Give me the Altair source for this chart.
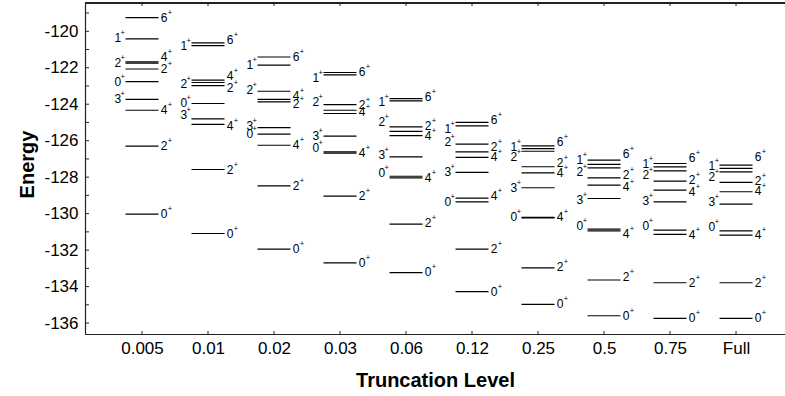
import altair as alt
import pandas as pd

categories = ["0.005", "0.01", "0.02", "0.03", "0.06", "0.12", "0.25", "0.5", "0.75", "Full"]

# energies of the levels in each truncation column
E_0005 = [-119.25, -120.42, -121.68, -121.75, -122.07, -122.76, -123.74, -124.33, -126.30, -130.03]
E_001 = [-120.64, -120.79, -122.68, -122.81, -122.98, -123.96, -124.80, -125.10, -127.58, -131.09]
E_002 = [-121.41, -121.86, -123.29, -123.74, -123.87, -125.28, -125.64, -126.25, -128.48, -131.95]
E_003 = [-122.26, -122.39, -124.02, -124.33, -124.51, -125.75, -126.61, -126.68, -129.04, -132.70]
E_006 = [-123.69, -123.82, -125.24, -125.49, -125.72, -126.89, -127.95, -128.04, -130.58, -133.24]
E_012 = [-125.00, -125.19, -126.19, -126.61, -126.92, -127.74, -129.15, -129.35, -131.95, -134.28]
E_025 = [-126.28, -126.43, -126.58, -127.43, -127.76, -128.58, -130.20, -130.23, -132.97, -134.98]
E_05 = [-127.07, -127.30, -127.49, -128.04, -128.44, -129.17, -130.85, -130.94, -133.64, -135.60]
E_075 = [-127.25, -127.44, -127.66, -128.22, -128.71, -129.35, -130.90, -131.14, -133.79, -135.74]
E_full = [-127.34, -127.52, -127.71, -128.29, -128.80, -129.48, -130.94, -131.18, -133.79, -135.74]

# spin of each level
J_0005 = [6, 1, 4, 2, 2, 0, 3, 4, 2, 0]
J_001 = [6, 1, 4, 2, 2, 0, 3, 4, 2, 0]
J_002 = [6, 1, 2, 4, 2, 3, 0, 4, 2, 0]
J_003 = [6, 1, 2, 2, 4, 3, 0, 4, 2, 0]
J_006 = [6, 1, 2, 2, 4, 3, 0, 4, 2, 0]
J_012 = [6, 1, 2, 2, 4, 3, 4, 0, 2, 0]
J_025 = [6, 1, 2, 2, 4, 3, 0, 4, 2, 0]
J_05 = [6, 1, 2, 2, 4, 3, 0, 4, 2, 0]
J_075 = [6, 1, 2, 2, 4, 3, 0, 4, 2, 0]
J_full = [6, 1, 2, 2, 4, 3, 0, 4, 2, 0]

# side of the label (L = left of the level line, R = right)
S_0005 = "RLRLRLLRRR"
S_001 = "RLRLRLLRRR"
S_002 = "RLLRRLLRRR"
S_003 = "RLLRRLLRRR"
S_006 = "RLLRRLLRRR"
S_012 = "RLLRRLRLRR"
S_025 = "RLLRRLLRRR"
S_05 = "RLLRRLLRRR"
S_075 = "RLLRRLLRRR"
S_full = "RLLRRLLRRR"

# label nudges in pixels (style, keeps crowded labels apart)
N_0005 = [0, -1, -5, 0, 0, 0, 0, 0, 0, 0]
N_001 = [-3, 0, -4, 1, 2, 0, -4, 2, 0, 0]
N_002 = [0, 0, -1, -3, 2.5, -2, 0, 0, 0, 0]
N_003 = [0, 3, -3, -5, -1.5, 0, -4, 0, 0, 0]
N_006 = [-2, 1, -5, -5, 0, -2, -3, 0, -1, -1]
N_012 = [-2, 3, -2, -5, 0, 0, -2, 0, 0, 0]
N_025 = [-4, -2, 6, -4, 0.5, 0, 0, -1, -1, 0]
N_05 = [-6, -4, 4, -3, 2, 2, -3, 3, -3, 0]
N_075 = [-5.5, -2.7, 4.3, -1, 1.7, -1, -4, 0.7, 0, 0]
N_full = [-7.7, -2.6, 5.6, -1.3, -0.7, -2.3, -4, 0, 0, 0]

energies = [E_0005, E_001, E_002, E_003, E_006, E_012, E_025, E_05, E_075, E_full]
spins = [J_0005, J_001, J_002, J_003, J_006, J_012, J_025, J_05, J_075, J_full]
sides = [S_0005, S_001, S_002, S_003, S_006, S_012, S_025, S_05, S_075, S_full]
nudges = [N_0005, N_001, N_002, N_003, N_006, N_012, N_025, N_05, N_075, N_full]

y_tick_values = list(range(-136, -118))
y_label_values = list(range(-136, -119, 2))

W, H = 700, 331
Y_DOMAIN = [-136.6, -118.45]
X_DOMAIN = [-0.8636, 9.742]
HALF = 0.25
PX_PER_UNIT = H / (Y_DOMAIN[1] - Y_DOMAIN[0])

rows = []
for i, (E, J, S, N) in enumerate(zip(energies, spins, sides, nudges)):
    for e, j, s, n in zip(E, J, S, N):
        rows.append(dict(pos=i, e=e, j=str(j), side=s,
                         x0=i - HALF, x1=i + HALF, ly=e - n / PX_PER_UNIT))
df = pd.DataFrame(rows)
cat_df = pd.DataFrame({"pos": list(range(len(categories))), "cat": categories})
ytick_df = pd.DataFrame({"v": y_tick_values})

FONT = "Liberation Sans"
label_arr = "[" + ",".join("'%s'" % c for c in categories) + "]"

x_scale = alt.Scale(domain=X_DOMAIN, nice=False, zero=False)
y_scale = alt.Scale(domain=Y_DOMAIN, nice=False, zero=False)
x_axis = alt.Axis(values=list(range(len(categories))), labelExpr=label_arr + "[datum.value]",
                  title="Truncation Level", labelPadding=6, titlePadding=14)
y_axis = alt.Axis(values=y_label_values, labelExpr="'' + datum.value", title="Energy",
                  labelPadding=7, titlePadding=6, titleY=161)

base = alt.Chart(df)
levels = base.mark_rule(color="black", strokeWidth=1.2).encode(
    x=alt.X("x0:Q", scale=x_scale, axis=x_axis),
    x2="x1:Q",
    y=alt.Y("e:Q", scale=y_scale, axis=y_axis),
)

right = base.transform_filter(alt.datum.side == "R")
left = base.transform_filter(alt.datum.side == "L")

r_digit = right.mark_text(align="left", baseline="middle", dx=2.2, fontSize=12, font=FONT, color="black").encode(
    x=alt.X("x1:Q", scale=x_scale, axis=x_axis), y=alt.Y("ly:Q", scale=y_scale, axis=y_axis), text="j:N")
r_plus = right.mark_text(align="left", baseline="middle", dx=9.3, dy=-5, fontSize=7.5, font=FONT, color="black", text="+").encode(
    x=alt.X("x1:Q", scale=x_scale, axis=x_axis), y=alt.Y("ly:Q", scale=y_scale, axis=y_axis))
l_digit = left.mark_text(align="right", baseline="middle", dx=-4.3, fontSize=12, font=FONT, color="black").encode(
    x=alt.X("x0:Q", scale=x_scale, axis=x_axis), y=alt.Y("ly:Q", scale=y_scale, axis=y_axis), text="j:N")
l_plus = left.mark_text(align="right", baseline="middle", dx=-0.5, dy=-5, fontSize=7.5, font=FONT, color="black", text="+").encode(
    x=alt.X("x0:Q", scale=x_scale, axis=x_axis), y=alt.Y("ly:Q", scale=y_scale, axis=y_axis))

yticks = alt.Chart(ytick_df).mark_rule(color="#222", strokeWidth=1).encode(
    x=alt.value(0), x2=alt.value(4), y=alt.Y("v:Q", scale=y_scale, axis=y_axis))
bticks = alt.Chart(cat_df).mark_rule(color="#222", strokeWidth=1).encode(
    x=alt.X("pos:Q", scale=x_scale, axis=x_axis), y=alt.value(H - 3), y2=alt.value(H))
tticks = alt.Chart(cat_df).mark_rule(color="#222", strokeWidth=1).encode(
    x=alt.X("pos:Q", scale=x_scale, axis=x_axis), y=alt.value(0), y2=alt.value(3))
topline = alt.Chart(cat_df).mark_rule(color="#222", strokeWidth=1.2).encode(
    x=alt.value(0), x2=alt.value(W + 5), y=alt.value(0))

chart = alt.layer(levels, r_digit, r_plus, l_digit, l_plus, yticks, bticks, tticks, topline).properties(
    width=W, height=H,
    autosize=alt.AutoSizeParams(type="none"),
    padding={"left": 85, "top": 3, "right": 0, "bottom": 62},
).configure_view(stroke=None).configure_axis(
    labelFont=FONT, labelFontSize=17, labelColor="black",
    titleFont=FONT, titleFontSize=20, titleFontWeight="bold", titleColor="black",
    domainColor="#222", domainWidth=1.2, ticks=False, tickSize=0, grid=False,
)

chart.save("out.html", embed_options={"renderer": "svg", "actions": False})
